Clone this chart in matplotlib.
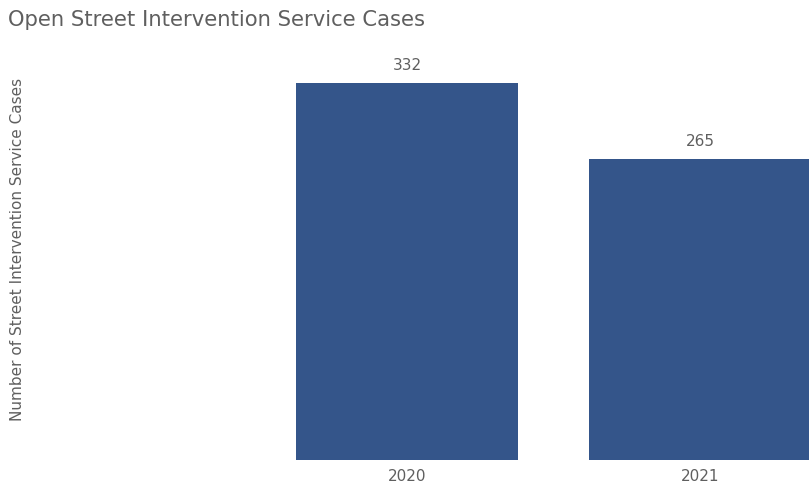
import matplotlib.pyplot as plt

years = ["2020", "2021"]
cases = [332, 265]

bar_color = "#34558A"
text_color = "#5F5F5F"

plt.rcParams["font.family"] = ["DejaVu Sans"]

W, H = 809, 488
fig = plt.figure(figsize=(W / 100, H / 100), dpi=100)

# axes box in pixels: x 40..809, y 60..460
ax = fig.add_axes([40 / W, (H - 460) / H, (809 - 40) / W, 400 / H])

x = list(range(len(years)))
bars = ax.bar(x, cases, width=0.758, color=bar_color)

# second bar runs off the right edge, like the original
ax.set_xlim(-1.2526, 1.372)
ax.set_ylim(0, 352.3)

for b, v in zip(bars, cases):
    ax.text(b.get_x() + b.get_width() / 2, v + 9, str(v),
            ha="center", va="bottom", fontsize=11, color=text_color)

ax.set_xticks(x)
ax.set_xticklabels(years, fontsize=11, color=text_color)
ax.tick_params(axis="x", length=0, pad=6.5)
ax.set_yticks([])
for s in ax.spines.values():
    s.set_visible(False)

fig.text(8 / W, 1 - 20 / H, "Open Street Intervention Service Cases",
         ha="left", va="center", fontsize=15.2, color=text_color)
fig.text(18 / W, 1 - 249 / H, "Number of Street Intervention Service Cases",
         ha="center", va="center", rotation=90, fontsize=11, color=text_color)

fig.savefig("out.png", dpi=100)
